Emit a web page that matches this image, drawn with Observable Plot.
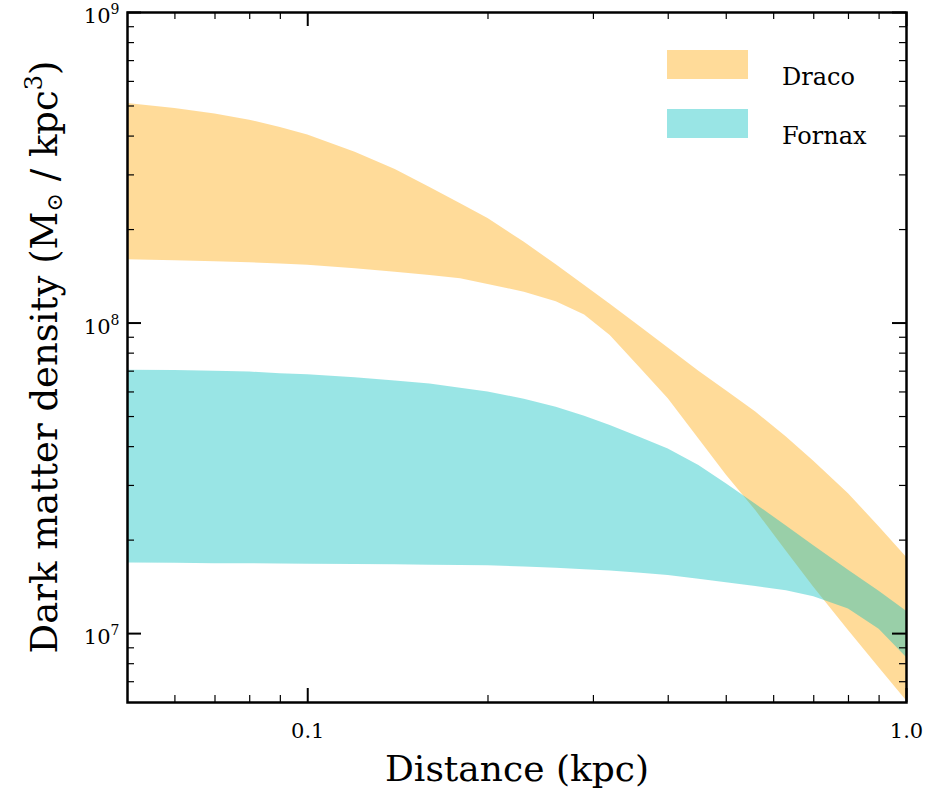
<!DOCTYPE html>
<html><head><meta charset="utf-8">
<script src="https://cdn.jsdelivr.net/npm/d3@7"></script>
<script src="https://cdn.jsdelivr.net/npm/@observablehq/plot@0.6"></script>
<style>body{margin:0;background:#fff;} svg{display:block;}</style>
</head><body><div id="chart"></div>
<script>
// Distance grid (kpc)
const radius = [0.05,0.06,0.07,0.08,0.09,0.1,0.12,0.14,0.16,0.18,0.2,0.23,0.26,0.29,0.32,0.36,0.4,0.45,0.5,0.56,0.63,0.7,0.8,0.9,1.0];
// Draco density band (Msun/kpc^3)
const dracoUpper = [5.09e8,4.91e8,4.71e8,4.50e8,4.26e8,4.03e8,3.55e8,3.12e8,2.73e8,2.42e8,2.17e8,1.82e8,1.54e8,1.32e8,1.15e8,9.69e7,8.31e7,7.00e7,6.05e7,5.17e7,4.30e7,3.59e7,2.82e7,2.21e7,1.76e7];
const dracoLower = [1.60e8,1.588e8,1.575e8,1.564e8,1.550e8,1.534e8,1.497e8,1.458e8,1.422e8,1.390e8,1.332e8,1.257e8,1.171e8,1.061e8,9.11e7,7.13e7,5.70e7,4.23e7,3.24e7,2.49e7,1.84e7,1.41e7,1.023e7,7.77e6,6.08e6];
// Fornax density band
const fornaxUpper = [7.05e7,7.03e7,6.99e7,6.95e7,6.87e7,6.82e7,6.67e7,6.51e7,6.37e7,6.17e7,6.00e7,5.68e7,5.36e7,5.01e7,4.68e7,4.27e7,3.93e7,3.48e7,3.04e7,2.61e7,2.22e7,1.92e7,1.60e7,1.37e7,1.18e7];
const fornaxLower = [1.688e7,1.684e7,1.680e7,1.678e7,1.675e7,1.673e7,1.669e7,1.665e7,1.660e7,1.657e7,1.654e7,1.638e7,1.622e7,1.607e7,1.590e7,1.563e7,1.539e7,1.496e7,1.458e7,1.417e7,1.373e7,1.314e7,1.201e7,1.032e7,8.37e6];

const seriesNames = ["Draco", "Fornax"];
const seriesColors = ["orange", "#00bfbf"];

const xMajorTicks = [0.1, 1.0];
const xTickLabels = ["0.1", "1.0"];
const xMinorTicks = [0.06,0.07,0.08,0.09,0.2,0.3,0.4,0.5,0.6,0.7,0.8,0.9];
const yMajorTicks = [1e7, 1e8, 1e9];
const yTickExponents = ["7", "8", "9"];
const yMinorTicks = [7e6,8e6,9e6,2e7,3e7,4e7,5e7,6e7,7e7,8e7,9e7,2e8,3e8,4e8,5e8,6e8,7e8,8e8,9e8];

const xTitle = "Distance (kpc)";

const draco = radius.map((r, i) => ({r, lo: dracoLower[i], hi: dracoUpper[i]}));
const fornax = radius.map((r, i) => ({r, lo: fornaxLower[i], hi: fornaxUpper[i]}));

const W = 942, H = 792, mL = 127, mR = 36, mT = 12, mB = 90;
const plotW = W - mL - mR, plotH = H - mT - mB;
const FONT = "DejaVu Serif";
const majorLen = 14, minorLen = 7;

const svg = Plot.plot({
  width: W, height: H,
  marginLeft: mL, marginRight: mR, marginTop: mT, marginBottom: mB,
  style: {fontFamily: FONT, background: "white", color: "black"},
  x: {type: "log", domain: [0.05, 1.0], axis: null},
  y: {type: "log", domain: [6e6, 1e9], axis: null},
  marks: [
    Plot.areaY(draco, {x: "r", y1: "lo", y2: "hi", fill: seriesColors[0], fillOpacity: 0.4}),
    Plot.areaY(fornax, {x: "r", y1: "lo", y2: "hi", fill: seriesColors[1], fillOpacity: 0.4}),
    Plot.tickX(xMajorTicks, {x: d => d, stroke: "black", strokeWidth: 2, insetTop: plotH - majorLen}),
    Plot.tickX(xMajorTicks, {x: d => d, stroke: "black", strokeWidth: 2, insetBottom: plotH - majorLen}),
    Plot.tickX(xMinorTicks, {x: d => d, stroke: "black", strokeWidth: 1.2, insetTop: plotH - minorLen}),
    Plot.tickX(xMinorTicks, {x: d => d, stroke: "black", strokeWidth: 1.2, insetBottom: plotH - minorLen}),
    Plot.tickY(yMajorTicks, {y: d => d, stroke: "black", strokeWidth: 2, insetRight: plotW - majorLen}),
    Plot.tickY(yMajorTicks, {y: d => d, stroke: "black", strokeWidth: 2, insetLeft: plotW - majorLen}),
    Plot.tickY(yMinorTicks, {y: d => d, stroke: "black", strokeWidth: 1.2, insetRight: plotW - minorLen}),
    Plot.tickY(yMinorTicks, {y: d => d, stroke: "black", strokeWidth: 1.2, insetLeft: plotW - minorLen}),
    Plot.frame({stroke: "black", strokeWidth: 2.5}),
    Plot.text(xMajorTicks, {x: d => d, text: (d, i) => xTickLabels[i], frameAnchor: "bottom", lineAnchor: "middle", dy: 29, fontSize: 21, fontFamily: FONT, fill: "black"}),
    Plot.text(yMajorTicks, {y: d => d, text: () => "10", frameAnchor: "left", textAnchor: "end", lineAnchor: "middle", dx: -17, dy: 4, fontSize: 21, fontFamily: FONT, fill: "black"}),
    Plot.text(yMajorTicks, {y: d => d, text: (d, i) => yTickExponents[i], frameAnchor: "left", textAnchor: "start", lineAnchor: "middle", dx: -17, dy: -3, fontSize: 14, fontFamily: FONT, fill: "black"}),
    Plot.text([xTitle], {frameAnchor: "bottom", lineAnchor: "bottom", dy: 78, fontSize: 36, fontFamily: FONT, fill: "black"})
  ]
});

const s = d3.select(svg);
const yt = s.append("text")
  .attr("transform", `translate(57, ${mT + plotH / 2}) rotate(-90)`)
  .attr("text-anchor", "middle")
  .style("font-size", "37px")
  .style("font-family", FONT)
  .attr("fill", "black");
yt.append("tspan").text("Dark matter density (M");
yt.append("tspan").style("font-size", "22px").attr("dy", 5).text("\u2299");
yt.append("tspan").attr("dy", -5).text(" / kpc");
yt.append("tspan").style("font-size", "24px").attr("dy", -15).text("3");
yt.append("tspan").attr("dy", 15).text(")");

const lg = s.append("g");
seriesNames.forEach((name, i) => {
  const y0 = 50 + i * 59;
  lg.append("rect").attr("x", 667).attr("y", y0).attr("width", 81).attr("height", 29)
    .attr("fill", seriesColors[i]).attr("fill-opacity", 0.4);
  lg.append("text").attr("x", 782).attr("y", y0 + 35)
    .attr("text-anchor", "start")
    .style("font-size", "24px").style("font-family", FONT)
    .attr("fill", "black").text(name);
});

document.getElementById("chart").appendChild(svg);
</script>
</body></html>
